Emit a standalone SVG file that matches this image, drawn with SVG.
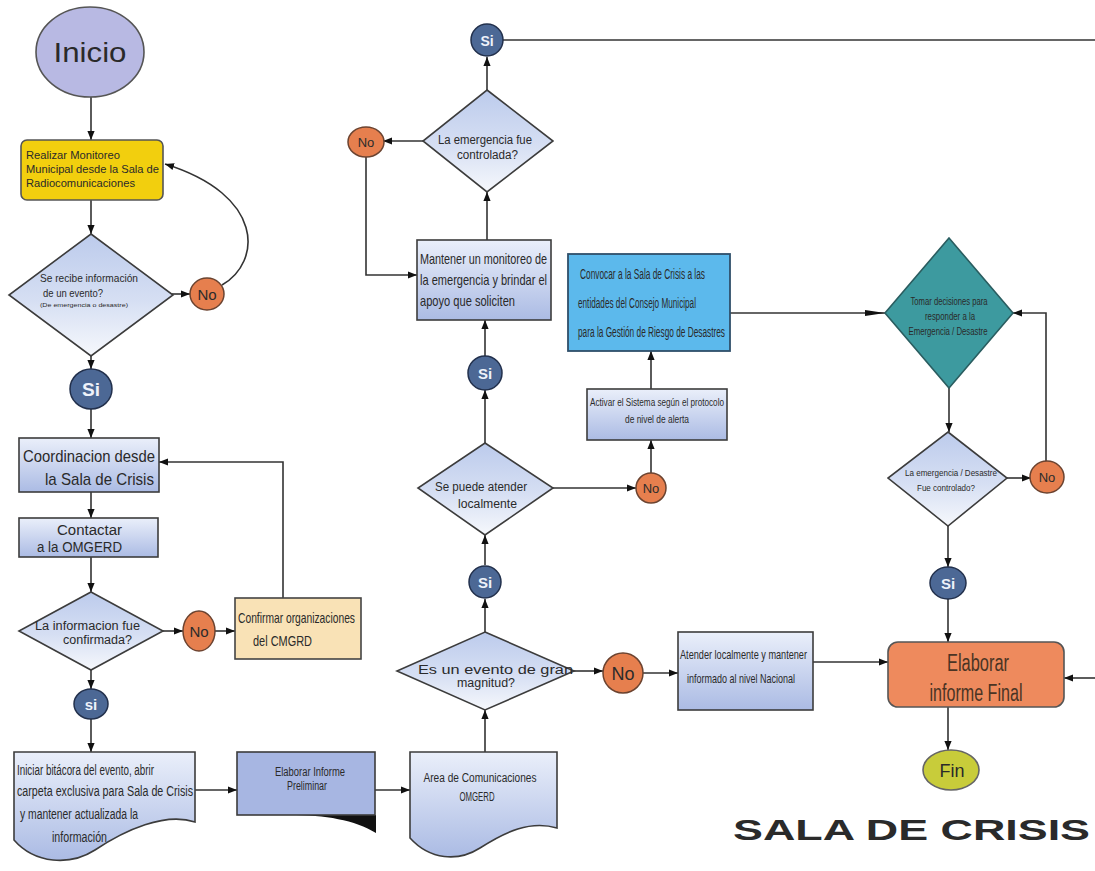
<svg xmlns="http://www.w3.org/2000/svg" width="1095" height="871" viewBox="0 0 1095 871">
  <style>
    .box{fill:url(#gBox);stroke:#3c3c3c;stroke-width:1.6}
    .dia{fill:url(#gDia);stroke:#3c3c3c;stroke-width:1.6}
    .si{fill:#4c6895;stroke:#22304c;stroke-width:1.5}
    .no{fill:#e67f4e;stroke:#6b4330;stroke-width:1.5}
    .t{font-family:"Liberation Sans",Arial,sans-serif;fill:#2a2a2a}
    .c{text-anchor:middle}
    .sit{font-family:"Liberation Sans",Arial,sans-serif;fill:#eef2fa;text-anchor:middle;font-weight:bold}
    .not{font-family:"Liberation Sans",Arial,sans-serif;fill:#2b2b2b;text-anchor:middle}
    .edge{fill:none;stroke:#333;stroke-width:1.6}
    .arr{marker-end:url(#ah)}
  </style>
  <defs>
    <linearGradient id="gBox" x1="0" y1="0" x2="0" y2="1">
      <stop offset="0" stop-color="#eaeffa"/>
      <stop offset="1" stop-color="#abbbe4"/>
    </linearGradient>
    <linearGradient id="gDia" x1="0" y1="0" x2="0" y2="1">
      <stop offset="0" stop-color="#bccbec"/>
      <stop offset="0.55" stop-color="#d6dff3"/>
      <stop offset="1" stop-color="#f6f8fc"/>
    </linearGradient>
    <marker id="ah" viewBox="0 0 10 10" refX="10" refY="5" markerWidth="9" markerHeight="9" markerUnits="userSpaceOnUse" orient="auto">
      <path d="M0,1 L10,5 L0,9 z" fill="#111"/>
    </marker>
    <marker id="ahLong" viewBox="0 0 20 10" refX="20" refY="5" markerWidth="22" markerHeight="10" markerUnits="userSpaceOnUse" orient="auto">
      <path d="M0,2 L20,5 L0,8 z" fill="#111"/>
    </marker>
  </defs>

  <rect width="1095" height="871" fill="#ffffff"/>

  <!-- connectors -->
  <g id="connectors">
    <path class="edge arr" d="M91,97 V140"/>
    <path class="edge arr" d="M91,200 V234"/>
    <path class="edge arr" d="M172,294 H190"/>
    <path class="edge arr" d="M222,285 C262,262 265,195 165,164"/>
    <path class="edge arr" d="M91,356 V369"/>
    <path class="edge arr" d="M91,409 V438"/>
    <path class="edge arr" d="M91,492 V518"/>
    <path class="edge arr" d="M91,557 V592"/>
    <path class="edge arr" d="M163,631 H183"/>
    <path class="edge arr" d="M215,631 H235"/>
    <path class="edge arr" d="M283,598 V462 H159"/>
    <path class="edge arr" d="M91,670 V689"/>
    <path class="edge arr" d="M91,719 V752"/>
    <path class="edge arr" d="M195,790 H237"/>
    <path class="edge arr" d="M375,790 H410"/>
    <path class="edge arr" d="M485,752 V710"/>
    <path class="edge arr" d="M574,671 H603"/>
    <path class="edge arr" d="M643,673 H678"/>
    <path class="edge arr" d="M813,662 H888"/>
    <path class="edge arr" d="M485,632 V599"/>
    <path class="edge arr" d="M485,565 V535"/>
    <path class="edge arr" d="M485,443 V390"/>
    <path class="edge arr" d="M485,356 V320"/>
    <path class="edge arr" d="M487,240 V192"/>
    <path class="edge arr" d="M487,90 V57"/>
    <path class="edge" d="M503,40 H1095" stroke="#555" stroke-width="2.2"/>
    <path class="edge arr" d="M423,141 H383"/>
    <path class="edge arr" d="M366,157 V275 H417"/>
    <path class="edge arr" d="M553,488 H636"/>
    <path class="edge arr" d="M651,473 V440"/>
    <path class="edge arr" d="M651,389 V351"/>
    <path class="edge" d="M730,313 H885" marker-end="url(#ahLong)"/>
    <path class="edge arr" d="M949,388 V432"/>
    <path class="edge arr" d="M1007,478 H1031"/>
    <path class="edge arr" d="M1046,462 V313 H1013"/>
    <path class="edge arr" d="M948,526 V567"/>
    <path class="edge arr" d="M948,599 V642"/>
    <path class="edge arr" d="M1095,678 H1064"/>
    <path class="edge arr" d="M948,707 V750"/>
  </g>

  <!-- start -->
  <g id="inicio">
    <ellipse cx="90" cy="52" rx="54" ry="45" fill="#b8b9e3" stroke="#555" stroke-width="1.6"/>
    <text class="t c" x="90" y="62" font-size="28" textLength="73" lengthAdjust="spacingAndGlyphs">Inicio</text>
  </g>

  <g id="monitoreo">
    <rect x="21" y="140" width="142" height="60" rx="6" fill="#f2cf0e" stroke="#555" stroke-width="1.6"/>
    <text class="t" x="26" y="159" font-size="11.5" textLength="94" lengthAdjust="spacingAndGlyphs">Realizar Monitoreo</text>
    <text class="t" x="26" y="173" font-size="11.5" textLength="133" lengthAdjust="spacingAndGlyphs">Municipal desde la Sala de</text>
    <text class="t" x="26" y="187" font-size="11.5" textLength="109" lengthAdjust="spacingAndGlyphs">Radiocomunicaciones</text>
  </g>

  <g id="recibe">
    <polygon class="dia" points="91,234 173,295 91,356 9,295"/>
    <text class="t" x="40" y="282" font-size="11.5" textLength="98" lengthAdjust="spacingAndGlyphs">Se recibe información</text>
    <text class="t" x="43" y="297" font-size="11.5" textLength="60" lengthAdjust="spacingAndGlyphs">de un evento?</text>
    <text class="t" x="40" y="307" font-size="6" textLength="88" lengthAdjust="spacingAndGlyphs">(De emergencia o desastre)</text>
  </g>
  <g id="no1">
    <ellipse class="no" cx="207" cy="294" rx="17" ry="16"/>
    <text class="not" x="207" y="300" font-size="15">No</text>
  </g>
  <g id="si1">
    <ellipse class="si" cx="91" cy="389" rx="21" ry="20"/>
    <text class="sit" x="91" y="396" font-size="19">Si</text>
  </g>

  <g id="coordinacion">
    <rect class="box" x="19" y="438" width="140" height="54"/>
    <text class="t" x="23" y="462" font-size="17" textLength="132" lengthAdjust="spacingAndGlyphs">Coordinacion desde</text>
    <text class="t" x="45" y="485" font-size="17" textLength="109" lengthAdjust="spacingAndGlyphs">la Sala de Crisis</text>
  </g>

  <g id="contactar">
    <rect class="box" x="19" y="518" width="139" height="39"/>
    <text class="t" x="57" y="535" font-size="14" textLength="65" lengthAdjust="spacingAndGlyphs">Contactar</text>
    <text class="t" x="37" y="552" font-size="14" textLength="85" lengthAdjust="spacingAndGlyphs">a la OMGERD</text>
  </g>

  <g id="confirmada">
    <polygon class="dia" points="91,592 163,631 91,670 19,631"/>
    <text class="t" x="35" y="630" font-size="12" textLength="105" lengthAdjust="spacingAndGlyphs">La informacion fue</text>
    <text class="t" x="63" y="644" font-size="12" textLength="69" lengthAdjust="spacingAndGlyphs">confirmada?</text>
  </g>
  <g id="no3">
    <ellipse class="no" cx="199" cy="631" rx="16" ry="20"/>
    <text class="not" x="199" y="637" font-size="15">No</text>
  </g>

  <g id="confirmar">
    <rect x="235" y="598" width="126" height="61" fill="#f9e2b6" stroke="#444" stroke-width="1.6"/>
    <text class="t" x="238" y="623" font-size="15" textLength="117" lengthAdjust="spacingAndGlyphs">Confirmar organizaciones</text>
    <text class="t" x="253" y="646" font-size="15" textLength="59" lengthAdjust="spacingAndGlyphs">del CMGRD</text>
  </g>

  <g id="si3">
    <ellipse class="si" cx="91" cy="704" rx="17" ry="15"/>
    <text class="sit" x="91" y="710" font-size="15">si</text>
  </g>

  <g id="bitacora">
    <path class="box" d="M14,752 H195 V822 C165,812 125,830 95,850 C70,866 35,864 14,840 Z"/>
    <text class="t" x="17" y="775" font-size="14" textLength="137" lengthAdjust="spacingAndGlyphs">Iniciar bitácora del evento, abrir</text>
    <text class="t" x="17" y="796" font-size="14" textLength="176" lengthAdjust="spacingAndGlyphs">carpeta exclusiva  para Sala de Crisis</text>
    <text class="t" x="20" y="819" font-size="14" textLength="118" lengthAdjust="spacingAndGlyphs">y mantener actualizada la</text>
    <text class="t" x="52" y="842" font-size="14" textLength="55" lengthAdjust="spacingAndGlyphs">información</text>
  </g>

  <g id="preliminar">
    <path d="M290,815 H376 V833 C355,820 325,815 290,815 Z" fill="#111"/>
    <rect x="237" y="752" width="138" height="63" fill="#a7b6e2" stroke="#3c3c3c" stroke-width="1.6"/>
    <text class="t c" x="310" y="776" font-size="12" textLength="70" lengthAdjust="spacingAndGlyphs">Elaborar Informe</text>
    <text class="t c" x="307" y="790" font-size="12" textLength="40" lengthAdjust="spacingAndGlyphs">Preliminar</text>
  </g>

  <g id="area">
    <path class="box" d="M410,752 H557 V828 C530,820 505,832 480,848 C458,862 430,860 410,838 Z"/>
    <text class="t c" x="480" y="782" font-size="12" textLength="113" lengthAdjust="spacingAndGlyphs">Area de Comunicaciones</text>
    <text class="t c" x="477" y="801" font-size="12" textLength="35" lengthAdjust="spacingAndGlyphs">OMGERD</text>
  </g>

  <g id="magnitud">
    <polygon class="dia" points="485,632 574,671 485,710 397,671"/>
    <text class="t" x="418" y="674" font-size="12.5" textLength="155" lengthAdjust="spacingAndGlyphs">Es un evento de gran</text>
    <text class="t" x="457" y="687" font-size="12.5" textLength="58" lengthAdjust="spacingAndGlyphs">magnitud?</text>
  </g>
  <g id="no4">
    <ellipse class="no" cx="623" cy="673" rx="20" ry="20"/>
    <text class="not" x="623" y="680" font-size="18">No</text>
  </g>
  <g id="atender">
    <rect class="box" x="678" y="632" width="135" height="78"/>
    <text class="t" x="680" y="659" font-size="13.5" textLength="127" lengthAdjust="spacingAndGlyphs">Atender localmente y mantener</text>
    <text class="t" x="687" y="683" font-size="13.5" textLength="108" lengthAdjust="spacingAndGlyphs">informado al nivel Nacional</text>
  </g>

  <g id="si4">
    <ellipse class="si" cx="485" cy="582" rx="16" ry="16"/>
    <text class="sit" x="485" y="588" font-size="15">Si</text>
  </g>

  <g id="localmente">
    <polygon class="dia" points="485,443 553,488 485,535 418,488"/>
    <text class="t" x="435" y="491" font-size="12" textLength="92" lengthAdjust="spacingAndGlyphs">Se puede atender</text>
    <text class="t" x="458" y="508" font-size="12" textLength="59" lengthAdjust="spacingAndGlyphs">localmente</text>
  </g>
  <g id="no5">
    <ellipse class="no" cx="651" cy="488" rx="15" ry="15"/>
    <text class="not" x="651" y="493" font-size="13">No</text>
  </g>

  <g id="activar">
    <rect class="box" x="587" y="389" width="140" height="51"/>
    <text class="t c" x="657" y="406" font-size="10.5" textLength="134" lengthAdjust="spacingAndGlyphs">Activar el Sistema según el protocolo</text>
    <text class="t c" x="657" y="423" font-size="10.5" textLength="64" lengthAdjust="spacingAndGlyphs">de nivel de alerta</text>
  </g>

  <g id="convocar">
    <rect x="568" y="254" width="162" height="97" fill="#5cb9ec" stroke="#2f4f6a" stroke-width="1.8"/>
    <text class="t" x="580" y="279" font-size="15.5" textLength="125" lengthAdjust="spacingAndGlyphs">Convocar a la Sala de Crisis a las</text>
    <text class="t" x="578" y="308" font-size="15.5" textLength="118" lengthAdjust="spacingAndGlyphs">entidades del Consejo Municipal</text>
    <text class="t" x="578" y="337" font-size="15.5" textLength="147" lengthAdjust="spacingAndGlyphs">para la Gestión de Riesgo de Desastres</text>
  </g>

  <g id="si2">
    <ellipse class="si" cx="485" cy="373" rx="17" ry="17"/>
    <text class="sit" x="485" y="379" font-size="15">Si</text>
  </g>

  <g id="mantener">
    <rect class="box" x="417" y="240" width="134" height="80"/>
    <text class="t" x="420" y="264" font-size="14.5" textLength="127" lengthAdjust="spacingAndGlyphs">Mantener un monitoreo de</text>
    <text class="t" x="420" y="285" font-size="14.5" textLength="127" lengthAdjust="spacingAndGlyphs">la emergencia y brindar el</text>
    <text class="t" x="420" y="306" font-size="14.5" textLength="95" lengthAdjust="spacingAndGlyphs">apoyo que soliciten</text>
  </g>

  <g id="controlada">
    <polygon class="dia" points="487,90 553,141 487,192 423,141"/>
    <text class="t" x="438" y="144" font-size="12" textLength="94" lengthAdjust="spacingAndGlyphs">La emergencia fue</text>
    <text class="t" x="457" y="159" font-size="12" textLength="61" lengthAdjust="spacingAndGlyphs">controlada?</text>
  </g>
  <g id="no2">
    <ellipse class="no" cx="366" cy="142" rx="18" ry="15"/>
    <text class="not" x="366" y="147" font-size="13">No</text>
  </g>
  <g id="si0">
    <ellipse class="si" cx="487" cy="40" rx="16" ry="16"/>
    <text class="sit" x="487" y="46" font-size="14">Si</text>
  </g>

  <g id="decisiones">
    <polygon points="949,238 1013,313 949,388 885,313" fill="#3d9a9f" stroke="#2a5d60" stroke-width="1.6"/>
    <text class="t c" x="949" y="305" font-size="10" textLength="77" lengthAdjust="spacingAndGlyphs">Tomar decisiones para</text>
    <text class="t c" x="950" y="320" font-size="10" textLength="50" lengthAdjust="spacingAndGlyphs">responder a la</text>
    <text class="t c" x="948" y="335" font-size="10" textLength="79" lengthAdjust="spacingAndGlyphs">Emergencia / Desastre</text>
  </g>

  <g id="controlado">
    <polygon class="dia" points="948,432 1007,478 948,526 888,478"/>
    <text class="t" x="905" y="476" font-size="9.5" textLength="92" lengthAdjust="spacingAndGlyphs">La emergencia / Desastre</text>
    <text class="t" x="917" y="491" font-size="9.5" textLength="58" lengthAdjust="spacingAndGlyphs">Fue controlado?</text>
  </g>
  <g id="no6">
    <ellipse class="no" cx="1047" cy="477" rx="17" ry="16"/>
    <text class="not" x="1047" y="482" font-size="13">No</text>
  </g>
  <g id="si5">
    <ellipse class="si" cx="948" cy="583" rx="18" ry="16"/>
    <text class="sit" x="948" y="589" font-size="15">Si</text>
  </g>

  <g id="final">
    <rect x="888" y="642" width="176" height="65" rx="10" fill="#ee8a5d" stroke="#555" stroke-width="1.6"/>
    <text class="c" x="978" y="671" font-family="Liberation Sans, Arial, sans-serif" font-size="23" fill="#4a3424" textLength="62" lengthAdjust="spacingAndGlyphs">Elaborar</text>
    <text class="c" x="976" y="701" font-family="Liberation Sans, Arial, sans-serif" font-size="23" fill="#4a3424" textLength="93" lengthAdjust="spacingAndGlyphs">informe Final</text>
  </g>

  <g id="fin">
    <ellipse cx="951" cy="770" rx="28" ry="20" fill="#c8cc3a" stroke="#666" stroke-width="1.6"/>
    <text class="t c" x="952" y="777" font-size="18" fill="#333">Fin</text>
  </g>

  <g id="title">
    <text class="t" x="733" y="840" font-size="30" font-weight="bold" fill="#111" textLength="357" lengthAdjust="spacingAndGlyphs">SALA DE CRISIS</text>
  </g>
</svg>
